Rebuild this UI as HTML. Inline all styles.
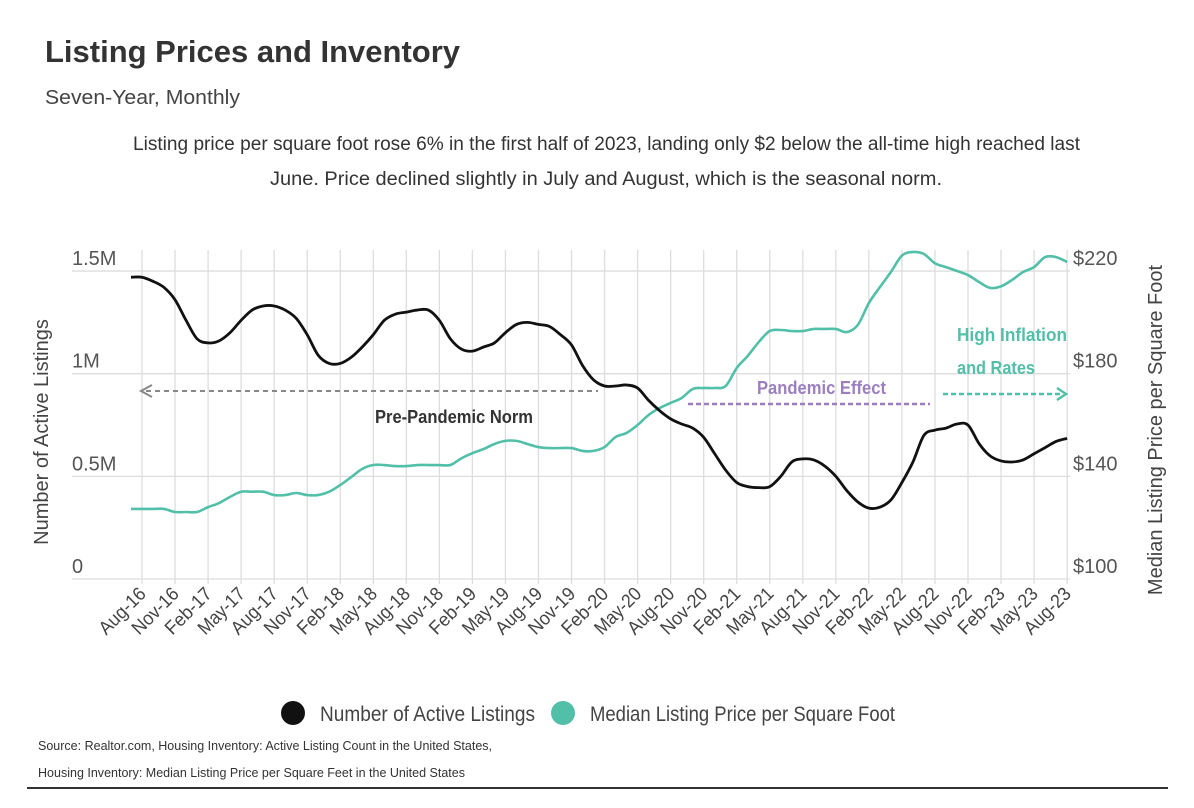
<!DOCTYPE html>
<html><head><meta charset="utf-8"><style>
body{margin:0;background:#fff;}
svg{display:block;font-family:"Liberation Sans Narrow","Liberation Sans",sans-serif;}
</style></head><body>
<svg id="chart" width="1194" height="808" viewBox="0 0 1194 808">
<text x="45" y="62" font-size="31" font-weight="bold" fill="#333" textLength="415" lengthAdjust="spacingAndGlyphs">Listing Prices and Inventory</text>
<text x="45" y="104" font-size="20" fill="#444" textLength="195" lengthAdjust="spacingAndGlyphs">Seven-Year, Monthly</text>
<text x="133" y="150" font-size="19" fill="#333" textLength="947" lengthAdjust="spacingAndGlyphs">Listing price per square foot rose 6% in the first half of 2023, landing only $2 below the all-time high reached last</text>
<text x="270" y="185" font-size="19" fill="#333" textLength="672" lengthAdjust="spacingAndGlyphs">June.  Price declined slightly in July and August, which is the seasonal norm.</text>
<g id="grid"></g>
<g id="axes"></g>
<g id="annot">
<line x1="146" y1="391" x2="598" y2="391" stroke="#888" stroke-width="2" stroke-dasharray="5,4"/>
<polyline points="152,385 141,391 152,397" fill="none" stroke="#888" stroke-width="2"/>
<text x="375" y="423" font-size="18" font-weight="bold" fill="#333" textLength="158" lengthAdjust="spacingAndGlyphs">Pre-Pandemic Norm</text>
<line x1="688" y1="404" x2="930" y2="404" stroke="#9b7fbf" stroke-width="2.5" stroke-dasharray="5,3"/>
<text x="757" y="394" font-size="18" font-weight="bold" fill="#9b7fbf" textLength="129" lengthAdjust="spacingAndGlyphs">Pandemic Effect</text>
<line x1="943" y1="394" x2="1062" y2="394" stroke="#52bfa8" stroke-width="2.5" stroke-dasharray="5,3"/>
<polyline points="1057,388 1066,394 1057,400" fill="none" stroke="#52bfa8" stroke-width="2.5"/>
<text x="957" y="341" font-size="18" font-weight="bold" fill="#52bfa8" textLength="110" lengthAdjust="spacingAndGlyphs">High Inflation</text>
<text x="957" y="374" font-size="18" font-weight="bold" fill="#52bfa8" textLength="78" lengthAdjust="spacingAndGlyphs">and Rates</text>
</g>
<g id="series"></g>
<g>
<circle cx="293" cy="713" r="12" fill="#111"/>
<text x="320" y="721" font-size="21" fill="#444" textLength="215" lengthAdjust="spacingAndGlyphs">Number of Active Listings</text>
<circle cx="563" cy="713" r="12" fill="#52bfa8"/>
<text x="590" y="721" font-size="21" fill="#444" textLength="305" lengthAdjust="spacingAndGlyphs">Median Listing Price per Square Foot</text>
</g>
<text x="38" y="750" font-size="13" fill="#333" textLength="454" lengthAdjust="spacingAndGlyphs">Source:  Realtor.com, Housing Inventory: Active Listing Count in the United States,</text>
<text x="38" y="777" font-size="13" fill="#333" textLength="427" lengthAdjust="spacingAndGlyphs">Housing Inventory: Median Listing Price per Square Feet in the United States</text>
<line x1="27" y1="788" x2="1168" y2="788" stroke="#333" stroke-width="2"/>
</svg>
<script>
const tickLabels = ["Aug-16","Nov-16","Feb-17","May-17","Aug-17","Nov-17","Feb-18","May-18","Aug-18","Nov-18","Feb-19","May-19","Aug-19","Nov-19","Feb-20","May-20","Aug-20","Nov-20","Feb-21","May-21","Aug-21","Nov-21","Feb-22","May-22","Aug-22","Nov-22","Feb-23","May-23","Aug-23"];
const leftTicks = [0, 0.5, 1, 1.5];
const leftTickLabels = ["0","0.5M","1M","1.5M"];
const rightTicks = [100, 140, 180, 220];
const rightTickLabels = ["$100","$140","$180","$220"];
// monthly, Jul-16 .. Aug-23
const listings = [1.47,1.47,1.45,1.42,1.36,1.26,1.17,1.15,1.16,1.20,1.26,1.31,1.33,1.33,1.31,1.27,1.19,1.09,1.05,1.05,1.08,1.13,1.19,1.26,1.29,1.30,1.31,1.31,1.26,1.17,1.12,1.11,1.13,1.15,1.20,1.24,1.25,1.24,1.23,1.19,1.14,1.04,0.97,0.94,0.94,0.945,0.93,0.87,0.82,0.78,0.755,0.735,0.69,0.61,0.53,0.47,0.45,0.445,0.45,0.50,0.57,0.585,0.58,0.55,0.50,0.43,0.375,0.345,0.35,0.385,0.47,0.57,0.70,0.725,0.735,0.755,0.75,0.66,0.60,0.575,0.57,0.58,0.61,0.64,0.67,0.685];
const price = [127.3,127.3,127.3,127.3,126.1,126.1,126.1,128,129.6,132,134,134,134,132.7,132.7,133.5,132.7,132.7,134,136.6,139.7,142.9,144.4,144.4,144,144,144.4,144.4,144.4,144.4,147,149,150.6,152.6,153.8,153.8,152.6,151.4,151,151,151,149.9,149.9,151.4,155.3,156.9,160,163.9,166.6,168.6,170.5,174,174.4,174.4,175.2,182.2,186.9,192.3,196.6,197,196.6,196.6,197.4,197.4,197.4,196.2,199,207.5,213.7,219.6,226,227.4,226.6,223,221.5,220,218.4,215.7,213.4,214,216.5,219.6,221.5,225.4,225.4,223.5];

const NS="http://www.w3.org/2000/svg";
const x0=142, step=33.04/3;
const xMonth = i => x0 + (i-1)*step;
const yL = v => 579 - v*205.3;
const yR = v => 579 - (v-100)*2.567;
function mk(tag, attrs, parent){const e=document.createElementNS(NS,tag);for(const k in attrs)e.setAttribute(k,attrs[k]);parent.appendChild(e);return e;}
const grid=document.getElementById('grid'), axes=document.getElementById('axes'), series=document.getElementById('series');
tickLabels.forEach((t,i)=>{
  const x=x0+i*33.04;
  const l=mk('line',{x1:x,y1:250,x2:x,y2:584,stroke:'#ddd','stroke-width':1.3},grid);
  
  
  const tx=mk('text',{x:x+5,y:595,'font-size':19,fill:'#444','text-anchor':'end',textLength:t.length*9.6,lengthAdjust:'spacingAndGlyphs',transform:`rotate(-45 ${x+5} 595)`},axes);
  tx.textContent=t;
  
  
});
leftTicks.forEach((v,i)=>{
  const y=yL(v);
  const l=mk('line',{x1:72,y1:y,x2:1070,y2:y,stroke:'#ddd','stroke-width':1.3},grid);
  
  
  const t=mk('text',{x:72,y:y-6,'font-size':20,fill:'#555'},axes);
  t.textContent=leftTickLabels[i];
  
  
});
rightTicks.forEach((v,i)=>{
  const t=mk('text',{x:1073,y:yR(v)-6,'font-size':20,fill:'#555'},axes);
  t.textContent=rightTickLabels[i];
  
  
});
const lt=mk('text',{x:48,y:432,'font-size':20,fill:'#444','text-anchor':'middle',transform:'rotate(-90 48 432)'},axes);
lt.textContent='Number of Active Listings';


const rt=mk('text',{x:1162,y:430,'font-size':20,fill:'#444','text-anchor':'middle',transform:'rotate(-90 1162 430)'},axes);
rt.textContent='Median Listing Price per Square Foot';


function smooth(pts){
  let d=`M${pts[0][0]},${pts[0][1]}`;
  for(let i=0;i<pts.length-1;i++){
    const p0=pts[Math.max(0,i-1)],p1=pts[i],p2=pts[i+1],p3=pts[Math.min(pts.length-1,i+2)];
    const c1=[p1[0]+(p2[0]-p0[0])/6,p1[1]+(p2[1]-p0[1])/6];
    const c2=[p2[0]-(p3[0]-p1[0])/6,p2[1]-(p3[1]-p1[1])/6];
    d+=` C${c1[0]},${c1[1]} ${c2[0]},${c2[1]} ${p2[0]},${p2[1]}`;
  }
  return d;
}
const pp=mk('path',{d:smooth(price.map((v,i)=>[xMonth(i),yR(v)])),fill:'none',stroke:'#52bfa8','stroke-width':2.6},series);


const lp=mk('path',{d:smooth(listings.map((v,i)=>[xMonth(i),yL(v)])),fill:'none',stroke:'#111','stroke-width':2.8},series);


</script>
</body></html>
